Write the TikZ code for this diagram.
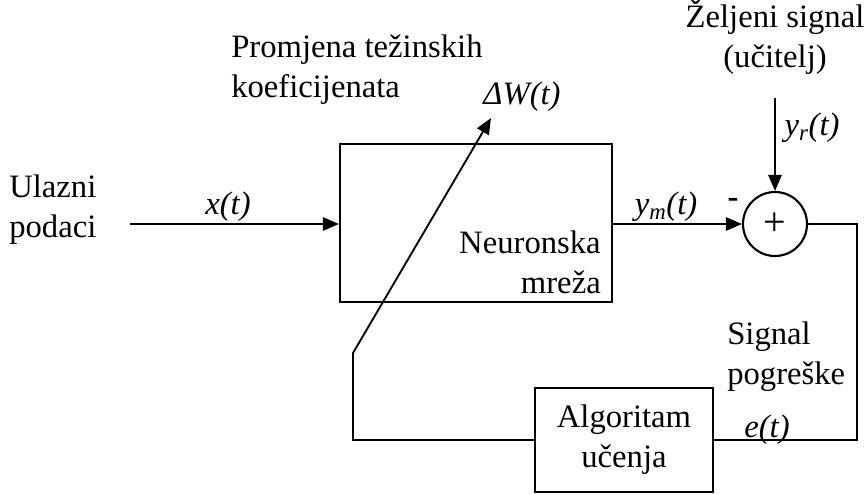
\documentclass[tikz,border=0pt]{standalone}
\usepackage{fontspec}
\setmainfont{Liberation Serif}
\usetikzlibrary{arrows.meta}
\usetikzlibrary{calc}

\tikzset{
    blok/.style={draw, line width=1.6pt, inner sep=0pt},
    veza/.style={line width=1.4pt},
    strel/.style={veza, -{Triangle[length=12pt,width=10pt]}},
    oznaka/.style={inner sep=0pt}
}

\begin{document}
\begin{tikzpicture}[x=0.75pt, y=-0.75pt, font=\fontsize{24.5}{30}\selectfont]
        \useasboundingbox (0,0) rectangle (867,495);

        % blokovi
        \node[blok, minimum width=204pt, minimum height=119pt] (mreza) at (476,223) {};
        \node[blok, minimum width=133.5pt, minimum height=78pt, align=center] (algoritam) at (624,440) {Algoritam\\u\v{c}enja};
        \node[blok, circle, minimum size=48pt, font=\fontsize{30}{30}\selectfont] (zbroj) at (775,224) {+};

        \node[oznaka, anchor=east, align=right] (mrezatxt) at (601,262) {Neuronska\\mre\v{z}a};

        % ulaz
        \coordinate (ulaz) at (130,224);
        \node[oznaka, anchor=west, align=left] (ulaztxt) at (9,210) {Ulazni\\podaci};
        \draw[strel] (ulaz) -- (ulaz -| mreza.west);
        \node[oznaka] (xt) at (228,207) {\textit{x(t)}};

        % izlaz mreze
        \draw[strel] (mreza.east |- zbroj.west) -- (zbroj.west);
        \node[oznaka] (ym) at (666,207) {\textit{y\textsubscript{m}(t)}};
        \node[oznaka] (minus) at (733,203) {\textbf{-}};

        % zeljeni signal
        \node[oznaka, align=center] (zeljeni) at (775,37) {\v{Z}eljeni signal\\(u\v{c}itelj)};
        \coordinate (ucitelj) at (775,98);
        \draw[strel] (ucitelj) -- (zbroj.north);
        \node[oznaka] (yr) at (812,128) {\textit{y\textsubscript{r}(t)}};

        % pogreska
        \coordinate (skretanje) at (857,224);
        \draw[veza] (zbroj.east) -- (skretanje) |- (algoritam.east);
        \node[oznaka, anchor=west, align=left] (pogreska) at (727,357) {Signal\\pogre\v{s}ke};
        \node[oznaka] (et) at (767,430) {\textit{e(t)}};

        % promjena tezina
        \coordinate (lijevo) at (353,440);
        \coordinate (gore) at (353,353);
        \coordinate (vrh) at (491,118);
        \draw[strel] (algoritam.west) -- (lijevo) -- (gore) -- (vrh);
        \node[oznaka] (dw) at (522,97) {\textit{ΔW(t)}};
        \node[oznaka, anchor=west, align=left] (promjena) at (231,70) {Promjena te\v{z}inskih\\koeficijenata};

\end{tikzpicture}
\end{document}
